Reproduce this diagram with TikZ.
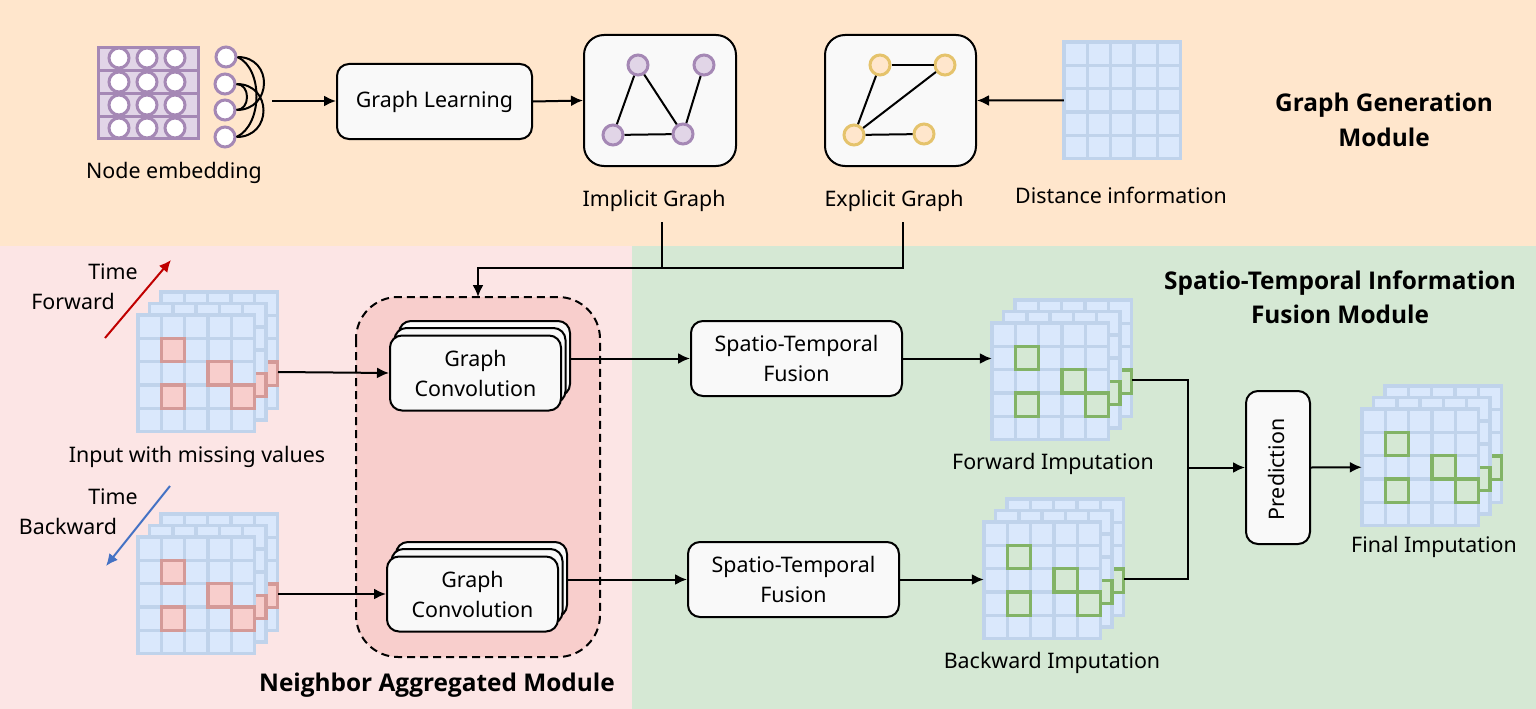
\documentclass[tikz,border=0pt]{standalone}
\usepackage{fontspec}
\setmainfont{Noto Sans}
\newfontfamily\headfont{Open Sans}
\usetikzlibrary{calc,positioning,arrows.meta}
\tikzset{>={Latex[length=12pt,width=11pt]}}
\definecolor{topbg}{HTML}{FFE6CC}
\definecolor{leftbg}{HTML}{FCE5E5}
\definecolor{rightbg}{HTML}{D5E8D4}
\definecolor{aggfill}{HTML}{F8CECC}
\definecolor{boxfill}{HTML}{F9F9F9}
\definecolor{cellfill}{HTML}{DAE8FC}
\definecolor{celldraw}{HTML}{C0D3EB}
\definecolor{redcell}{HTML}{D49A98}
\definecolor{greencell}{HTML}{82B366}
\definecolor{purpfill}{HTML}{E1D5E7}
\definecolor{purpdraw}{HTML}{A588B5}
\definecolor{yellowdraw}{HTML}{E5C36C}
\definecolor{timered}{HTML}{C00000}
\definecolor{timeblue}{HTML}{4472C4}
\tikzset{
  txt/.style={font=\fontsize{21.4}{30}\selectfont,align=center,inner sep=0pt,yshift=-2pt},
  head/.style={font=\headfont\fontsize{24.4}{34.5}\selectfont\bfseries,align=center,inner sep=0pt},
  rbox/.style={draw=black,line width=2pt,fill=boxfill,rounded corners=12pt,inner sep=0pt,
    font=\fontsize{21.4}{30}\selectfont,align=center},
  cell/.style={draw=celldraw,line width=3.4pt,fill=cellfill},
  conn/.style={->,line width=2pt},
  line/.style={line width=2pt},
  pnode/.style={circle,draw=purpdraw,line width=3pt,fill=purpfill,minimum size=20pt,inner sep=0pt},
  wnode/.style={pnode,fill=white},
  ynode/.style={pnode,draw=yellowdraw,fill=topbg},
}
\def\cellw{23.3}
% one 5x5 layer, x y of top left corner
\newcommand{\gridlayer}[2]{%
  \foreach \i in {0,...,4} \foreach \j in {0,...,4}
    \draw[cell] ({#1+\i*\cellw},{#2+\j*\cellw}) rectangle ++(\cellw,\cellw);
}
% the four marked cells of a layer
\newcommand{\marklayer}[4]{%
  \foreach \i/\j in {1/1,3/2,1/3,4/3}
    \draw[draw=#3,fill=#4,line width=3.4pt] ({#1+\i*\cellw},{#2+\j*\cellw}) rectangle ++(\cellw,\cellw);
}
% three layers, name x y markdraw markfill
\newcommand{\gridstack}[5]{%
  \gridlayer{#2+23}{#3-23}\marklayer{#2+23}{#3-23}{#4}{#5}
  \gridlayer{#2+11.5}{#3-11.5}\marklayer{#2+11.5}{#3-11.5}{#4}{#5}
  \gridlayer{#2}{#3}\marklayer{#2}{#3}{#4}{#5}
  \node[minimum size=116.5pt,inner sep=0pt] (#1) at (#2+58.25,#3+58.25) {};
  \coordinate (#1 out) at (#2+140,#3+57);
}
\begin{document}
\begin{tikzpicture}[x=1pt,y=-1pt]
  \useasboundingbox (0,0) rectangle (1536,709);
  % backgrounds
  \fill[topbg] (0,0) rectangle (1536,246);
  \fill[leftbg] (0,246) rectangle (632,709);
  \fill[rightbg] (632,246) rectangle (1536,709);
  \draw[fill=aggfill,dash pattern=on 8pt off 5pt,line width=2pt,rounded corners=42pt] (356,297) rectangle (600,657);
  \coordinate (agg top) at (478,297);

  % node embedding
  \foreach \r in {0,...,3}
    \draw[draw=purpdraw,fill=purpfill,line width=3pt] (98,48+\r*22.7) rectangle ++(100,22.7);
  \foreach \r/\y in {0/58,1/82,2/105,3/128}
    \foreach \x in {119,147,175}
      \node[wnode] (emb\x\r) at (\x,\y) {};
  \node[wnode] (col1) at (226,57) {};
  \node[wnode] (col2) at (225,84) {};
  \node[wnode] (col3) at (225,110) {};
  \node[wnode] (col4) at (225,137) {};
  \draw[line] (col1.east) .. controls +(36,0) and +(36,0) .. (col3.east);
  \draw[line] (col1.east) .. controls +(26,12) and +(26,-12) .. (col4.east);
  \draw[line] (col2.east) .. controls +(14,0) and +(14,0) .. (col3.east);
  \draw[line] (col2.east) .. controls +(36,0) and +(36,0) .. (col4.east);
  \node[txt] (emb label) at (174,171) {Node embedding};
  \coordinate (emb out) at (272,101);

  % graph learning and the two graphs
  \node[rbox,minimum width=195pt,minimum height=75pt] (learn) at (434.5,101.5) {\raisebox{-3pt}{Graph Learning}};
  \node[rbox,minimum width=152pt,minimum height=131pt,rounded corners=20pt] (implicit) at (660,100.5) {};
  \node[rbox,minimum width=151pt,minimum height=131pt,rounded corners=20pt] (explicit) at (900.5,100.5) {};
  \node[pnode] (ia) at (638,65) {};
  \node[pnode] (ib) at (704,65) {};
  \node[pnode] (ic) at (613,135) {};
  \node[pnode] (id) at (683,134) {};
  \draw[line] (ia) -- (ic);
  \draw[line] (ia) -- (id);
  \draw[line] (ib) -- (id);
  \draw[line] (ic) -- (id);
  \node[ynode] (ea) at (880,65) {};
  \node[ynode] (eb) at (945,65) {};
  \node[ynode] (ec) at (854,135) {};
  \node[ynode] (ed) at (924,134) {};
  \draw[line] (ea) -- (eb);
  \draw[line] (ea) -- (ec);
  \draw[line] (eb) -- (ec);
  \draw[line] (ec) -- (ed);
  \node[txt] (implicit label) at (654,199) {Implicit Graph};
  \node[txt] (explicit label) at (894,199) {Explicit Graph};
  \gridlayer{1064}{42}
  \node[minimum size=116.5pt,inner sep=0pt] (dist) at (1122.25,100.25) {};
  \node[txt] (dist label) at (1121,193) {Distance information};
  \node[head] (gen head) at (1384,120) {Graph Generation\\Module};

  \draw[conn] (emb out) -- (learn.west |- emb out);
  \draw[conn] (learn.east) -- (implicit.west);
  \draw[conn] (dist.west) -- (explicit.east);
  \coordinate (imp drop) at (662,222);
  \coordinate (exp drop) at (903,222);
  \coordinate (join) at (662,268);
  \draw[line] (imp drop) -- (join);
  \draw[conn] (exp drop) |- (agg top |- join) -- (agg top);

  % time arrows
  \coordinate (tf a) at (105,338);
  \coordinate (tf b) at (171,260);
  \coordinate (tb a) at (170,486);
  \coordinate (tb b) at (106,566);
  \draw[->,draw=timered,line width=2pt] (tf a) -- (tf b);
  \draw[->,draw=timeblue,line width=2pt] (tb a) -- (tb b);
  \node[txt] (time f) at (113,270) {Time};
  \node[txt] (fwd word) at (73,299) {Forward};
  \node[txt] (time b) at (113,495) {Time};
  \node[txt] (bwd word) at (68,524) {Backward};

  % input stacks
  \gridstack{inf}{138}{315}{redcell}{aggfill}
  \gridstack{inb}{138}{537}{redcell}{aggfill}
  \node[txt] (in label) at (197,455) {Input with missing values};

  % graph convolution
  \node[rbox,minimum width=171pt,minimum height=75pt] (convf3) at (484.5,358.5) {};
  \node[rbox,minimum width=171pt,minimum height=75pt] (convf2) at (480,365.5) {};
  \node[rbox,minimum width=171pt,minimum height=75pt] (convf) at (475.5,373) {Graph\\Convolution};
  \node[rbox,minimum width=171pt,minimum height=75pt] (convb3) at (481.5,579.5) {};
  \node[rbox,minimum width=171pt,minimum height=75pt] (convb2) at (477,586.5) {};
  \node[rbox,minimum width=171pt,minimum height=75pt] (convb) at (472.5,594) {Graph\\Convolution};
  \node[head] (agg head) at (437,685) {Neighbor Aggregated Module};
  \draw[conn] (inf out) -- (convf.west);
  \draw[conn] (inb out) -- (convb.west);

  % fusion
  \node[rbox,minimum width=211pt,minimum height=75pt] (fusef) at (796.5,358.5) {Spatio-Temporal\\Fusion};
  \node[rbox,minimum width=211pt,minimum height=75pt] (fuseb) at (793.5,579.5) {Spatio-Temporal\\Fusion};
  \draw[conn] (convf3.east |- fusef.west) -- (fusef.west);
  \draw[conn] (convb3.east |- fuseb.west) -- (fuseb.west);
  \gridstack{impf}{992}{323}{greencell}{rightbg}
  \gridstack{impb}{984}{522}{greencell}{rightbg}
  \node[txt] (impf label) at (1053,462) {Forward Imputation};
  \node[txt] (impb label) at (1052,661) {Backward Imputation};
  \draw[conn] (fusef.east) -- (impf.west |- fusef.east);
  \draw[conn] (fuseb.east) -- (impb.west |- fuseb.east);
  \node[head] (fuse head) at (1340,297.5) {Spatio-Temporal Information\\Fusion Module};

  % prediction
  \node[rbox,minimum width=64pt,minimum height=153pt] (pred) at (1278,467.5) {};
  \node[txt,rotate=90,yshift=2pt] (pred label) at (pred.center) {Prediction};
  \coordinate (bus) at (1188,467.5);
  \draw[line] (impf out) -| (bus);
  \draw[line] (impb out) -| (bus);
  \draw[conn] (bus) -- (pred.west);
  \gridstack{final}{1362}{409}{greencell}{rightbg}
  \draw[conn] (pred.east) -- (final.west);
  \node[txt] (final label) at (1434,545) {Final Imputation};
\end{tikzpicture}
\end{document}
